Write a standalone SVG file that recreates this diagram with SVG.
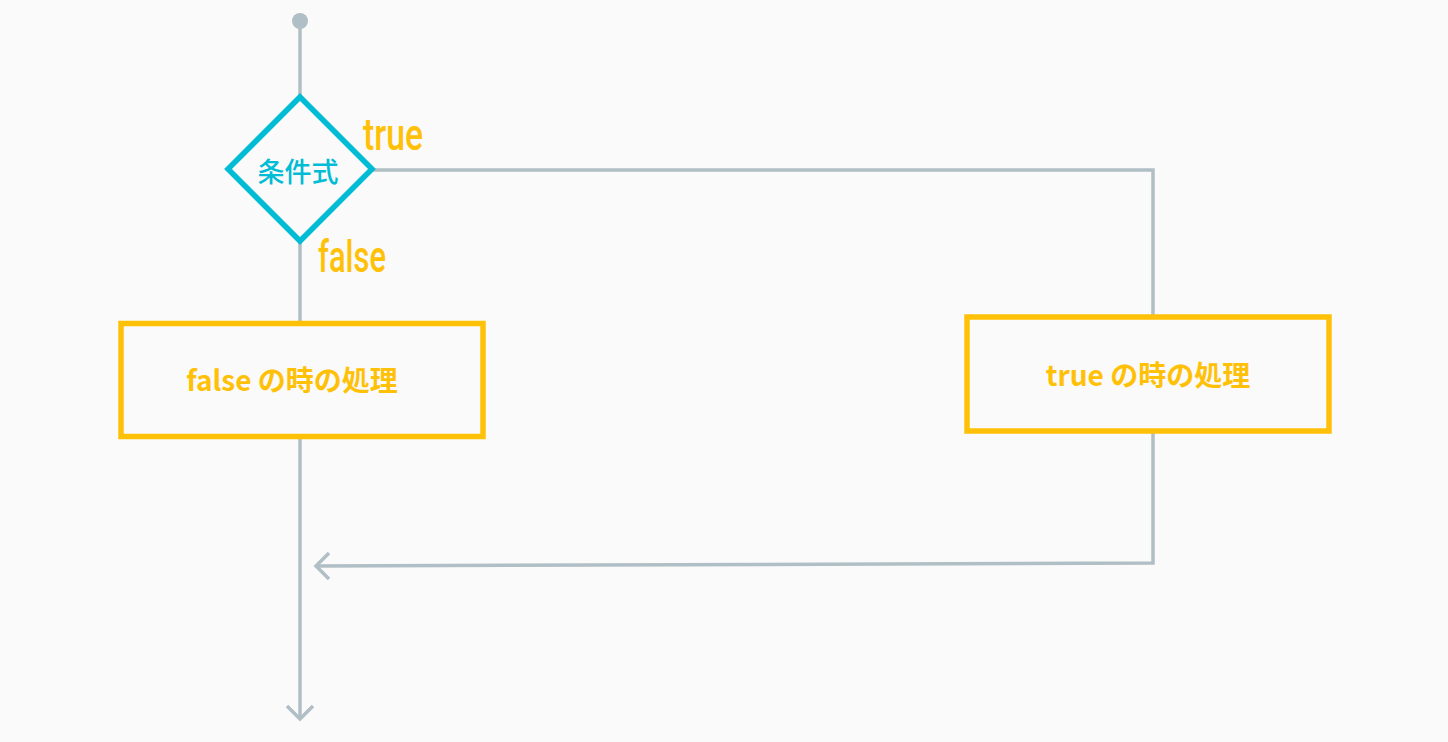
<svg xmlns="http://www.w3.org/2000/svg" width="1448" height="742" viewBox="0 0 1448 742">
<style>
.ln{fill:none;stroke:#b0bec5;stroke-width:3.5}
.box{fill:#fafafa;stroke:#ffc107;stroke-width:5.5}
.bt{font-family:"Noto Sans CJK JP","Noto Sans",sans-serif;font-weight:700;font-size:28px;fill:#ffc107;text-anchor:middle}
.lb{font-family:Roboto,"Liberation Sans",sans-serif;font-weight:500;font-size:44px;fill:#ffc107}
.dt{font-family:"Noto Sans CJK JP",sans-serif;font-weight:500;font-size:27px;fill:#00bcd4;text-anchor:middle}
</style>
<rect width="1448" height="742" fill="#fafafa"/>
<g id="connectors">
<circle cx="300" cy="21" r="8" fill="#b0bec5"/>
<line class="ln" x1="300" y1="21" x2="300" y2="718"/>
<polyline class="ln" points="373,170 1153,170 1153,318"/>
<polyline class="ln" points="1153,431 1153,563 316,566"/>
<polyline class="ln" points="329,553 316,566 329,579"/>
<polyline class="ln" points="287,706 300,719 313,706"/>
</g>
<g id="cond">
<polygon points="300,97 372,169 300,241 228,169" fill="#fafafa" stroke="#00bcd4" stroke-width="5.5"/>
<text class="dt" x="298" y="182">条件式</text>
</g>
<g id="label-true"><text class="lb" x="363" y="150" textLength="60" lengthAdjust="spacingAndGlyphs">true</text></g>
<g id="label-false"><text class="lb" x="318" y="272" textLength="68" lengthAdjust="spacingAndGlyphs">false</text></g>
<g id="false-box">
<rect class="box" x="121" y="323.5" width="362" height="113"/>
<text class="bt" x="292" y="391">false の時の処理</text>
</g>
<g id="true-box">
<rect class="box" x="967" y="317" width="362" height="114"/>
<text class="bt" x="1148" y="386">true の時の処理</text>
</g>
</svg>
